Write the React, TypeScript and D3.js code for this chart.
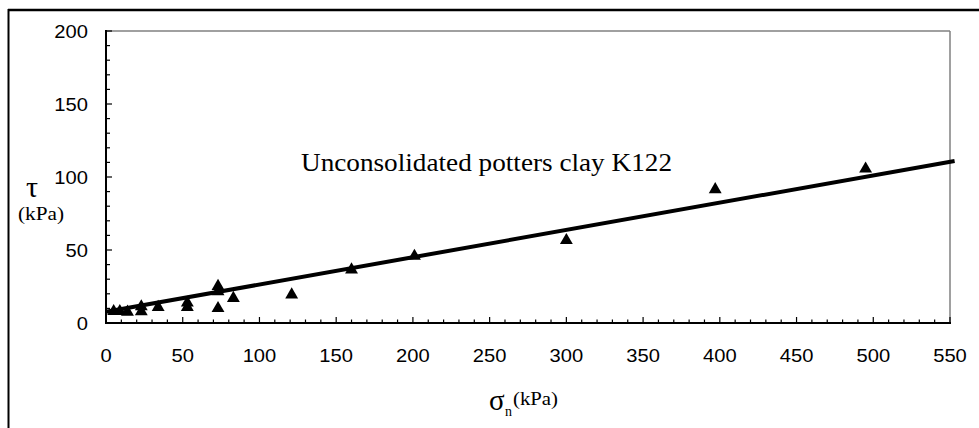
import React from 'react'
import { scaleLinear, line, symbol, symbolTriangle, range } from 'd3'

// measured points, sigma_n (kPa) vs tau (kPa)
const sigmaN = [5, 9, 14, 23, 23, 34, 53, 53, 73, 73, 73, 83, 121, 160, 201, 300, 397, 495]
const tau = [8, 8, 7.5, 11.2, 7.8, 10.8, 13.8, 10.8, 25.2, 21.6, 10, 17, 19.4, 36.5, 45.8, 56.6, 91.5, 105.6]

// fitted line
const fitX = [0, 553]
const fitY = [7.7, 111]

const xTicks = range(0, 551, 50)
const yTicks = range(0, 201, 50)
const xMinor = range(0, 551, 10)
const yMinor = range(0, 201, 10)

const title = 'Unconsolidated potters clay K122'

const W = 979, H = 428
const plot = { left: 106, right: 950, top: 31, bottom: 323 }
const sans = '"Liberation Sans", Arial, sans-serif'
const serif = '"Liberation Serif", "Times New Roman", serif'

export default function App() {
  const x = scaleLinear().domain([0, 550]).range([plot.left, plot.right])
  const y = scaleLinear().domain([0, 200]).range([plot.bottom, plot.top])

  const fit = line<number>()
    .x(d => x(fitX[d]))
    .y(d => y(fitY[d]))([0, 1]) ?? ''

  const tri = symbol().type(symbolTriangle).size(72)() ?? ''

  return (
    <svg width={W} height={H} style={{ position: 'absolute', left: 0, top: 0, background: '#fff' }}>
      {/* outer frame */}
      <line x1={8.5} x2={8.5} y1={9} y2={H} stroke="#000" strokeWidth={2} />
      <line x1={8} x2={W} y1={10} y2={10} stroke="#000" strokeWidth={2.5} />

      {/* plot frame */}
      <line x1={plot.left} x2={plot.right} y1={plot.top} y2={plot.top} stroke="#808080" strokeWidth={1.5} />
      <line x1={plot.right} x2={plot.right} y1={plot.top} y2={plot.bottom} stroke="#808080" strokeWidth={1.5} />

      {/* minor / major ticks */}
      {xMinor.map(v => (
        <line key={'xm' + v} x1={x(v)} x2={x(v)} y1={plot.bottom} y2={plot.bottom - (v % 50 === 0 ? 6 : 3.5)} stroke="#000" strokeWidth={1.2} />
      ))}
      {yMinor.map(v => (
        <line key={'ym' + v} x1={plot.left} x2={plot.left + (v % 50 === 0 ? 6 : 4)} y1={y(v)} y2={y(v)} stroke="#000" strokeWidth={1.2} />
      ))}

      <line x1={plot.left} x2={plot.right + 1} y1={plot.bottom} y2={plot.bottom} stroke="#000" strokeWidth={2} />
      <line x1={plot.left} x2={plot.left} y1={plot.top - 1} y2={plot.bottom + 1} stroke="#000" strokeWidth={2} />

      {/* tick labels */}
      {yTicks.map(v => (
        <text key={'yl' + v} transform={`translate(88,${y(v) + 6.5}) scale(1.12,1)`} textAnchor="end"
          fontFamily={sans} fontSize={18} fill="#000">{v}</text>
      ))}
      {xTicks.map(v => (
        <text key={'xl' + v} transform={`translate(${x(v)},${plot.bottom + 39}) scale(1.12,1)`} textAnchor="middle"
          fontFamily={sans} fontSize={18} fill="#000">{v}</text>
      ))}

      {/* fitted line */}
      <path d={fit} fill="none" stroke="#000" strokeWidth={4} />

      {/* points */}
      {sigmaN.map((s, i) => (
        <path key={'p' + i} d={tri} transform={`translate(${x(s)},${y(tau[i])})`} fill="#000" />
      ))}

      {/* annotation */}
      <text x={301} y={171} fontFamily={serif} fontSize={25} textLength={371} lengthAdjust="spacingAndGlyphs" fill="#000">{title}</text>

      {/* y axis title */}
      <text x={26} y={197} fontFamily={serif} fontSize={30} fill="#000">τ</text>
      <text x={18} y={220} fontFamily={serif} fontSize={19} textLength={46} lengthAdjust="spacingAndGlyphs" fill="#000">(kPa)</text>

      {/* x axis title */}
      <text x={489} y={410} fontFamily={serif} fontSize={29} fill="#000">σ</text>
      <text x={505} y={416} fontFamily={serif} fontSize={14} fill="#000">n</text>
      <text x={513} y={405} fontFamily={serif} fontSize={19} textLength={45} lengthAdjust="spacingAndGlyphs" fill="#000">(kPa)</text>
    </svg>
  )
}
